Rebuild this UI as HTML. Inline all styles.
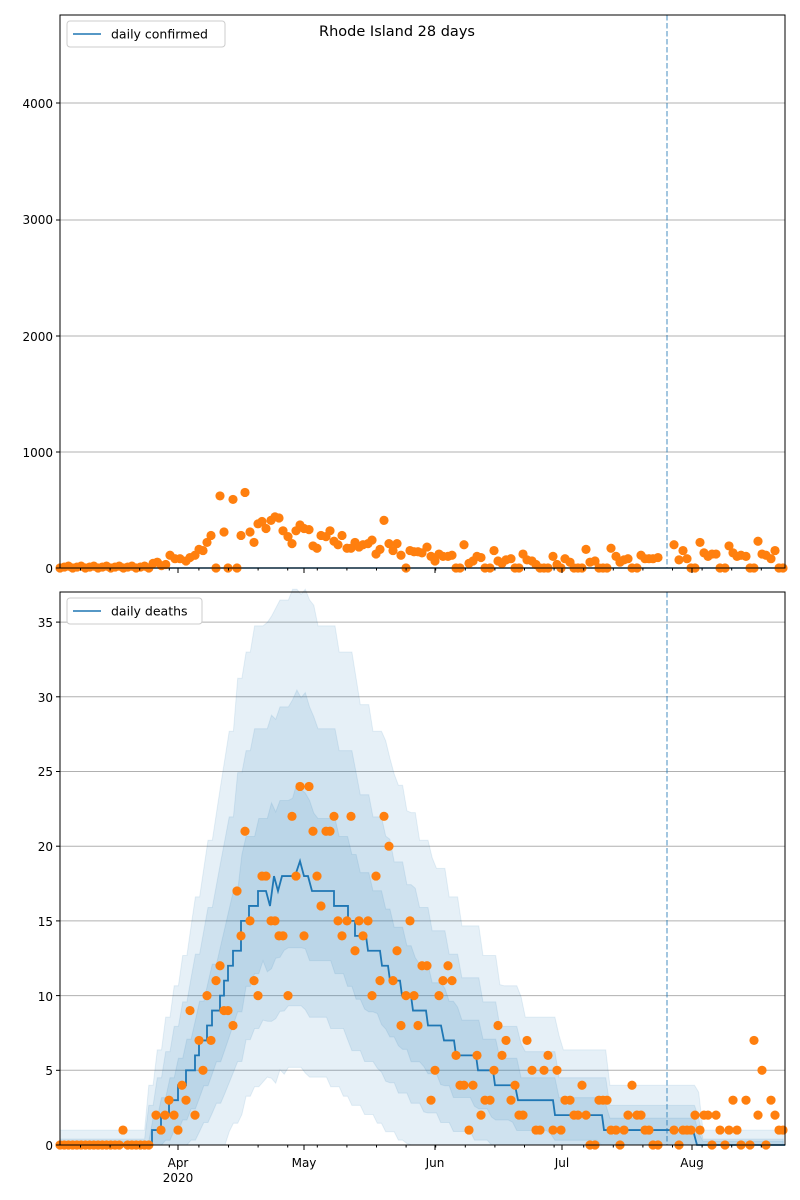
<!DOCTYPE html>
<html><head><meta charset="utf-8"><style>
body{margin:0;background:#fff}
svg{display:block;font-family:"DejaVu Sans","Liberation Sans",sans-serif}
</style></head><body>
<svg id="s" width="800" height="1200" xmlns="http://www.w3.org/2000/svg">
<rect width="800" height="1200" fill="#fff"/>
<g id="gtop"></g><g id="gbot"></g>
<g id="labels">
<text x="397" y="36" font-size="14.5" text-anchor="middle">Rhode Island 28 days</text>
<g font-size="12" text-anchor="end">
<text x="53" y="108">4000</text><text x="53" y="224">3000</text><text x="53" y="341">2000</text><text x="53" y="457">1000</text><text x="53" y="573">0</text>
<text x="53" y="627">35</text><text x="53" y="702">30</text><text x="53" y="776">25</text><text x="53" y="851">20</text><text x="53" y="926">15</text><text x="53" y="1001">10</text><text x="53" y="1075">5</text><text x="53" y="1150">0</text>
</g>
<g font-size="12" text-anchor="middle">
<text x="178" y="1167">Apr</text><text x="178" y="1182">2020</text>
<text x="304" y="1167">May</text><text x="435" y="1167">Jun</text><text x="562" y="1167">Jul</text><text x="692" y="1167">Aug</text>
</g>
<g font-size="12.5">
<rect x="67" y="21" width="158" height="26" rx="3" fill="#fff" stroke="#ccc"/>
<line x1="73" y1="34" x2="101" y2="34" stroke="#1f77b4" stroke-width="1.5"/>
<text x="111" y="38.5">daily confirmed</text>
<rect x="67" y="598" width="135" height="26" rx="3" fill="#fff" stroke="#ccc"/>
<line x1="73" y1="611" x2="101" y2="611" stroke="#1f77b4" stroke-width="1.5"/>
<text x="111" y="615.5">daily deaths</text>
</g>
</g>
</svg>
<script>
(function(){
var NS="http://www.w3.org/2000/svg";
function el(p,t,a){var e=document.createElementNS(NS,t);for(var k in a)e.setAttribute(k,a[k]);p.appendChild(e);return e;}
var S=document.getElementById('s');
var tp=document.getElementById('gtop'),bt=document.getElementById('gbot');
var L=60,R=785;
[103,220,336,452].forEach(function(y){el(tp,'line',{x1:L,x2:R,y1:y,y2:y,stroke:'#b0b0b0','stroke-width':1});});
function Y(v){return 1145-v*14.94;}
for(var v=5;v<=35;v+=5){var y=Y(v);el(bt,'line',{x1:L,x2:R,y1:y,y2:y,stroke:'#b0b0b0','stroke-width':1});}
var med=[[60,0],[152,0],[152,1],[161,1],[161,2],[169,2],[169,3],[178,3],[178,4],[186,4],[186,5],[195,5],[195,6],[199,6],[199,7],[207,7],[207,8],[212,8],[212,9],[220,9],[220,10],[224,10],[224,11],[228,11],[228,12],[233,12],[233,13],[241,13],[241,15],[249,15],[249,16],[258,16],[258,17],[266,17],[270,16],[274,18],[278,17],[282,18],[286,18],[291,18],[295,18],[300,19],[304,18],[308,18],[312,17],[322,17],[334,17],[334,16],[348,16],[348,15],[355,15],[355,14],[366,14],[368,13],[380,13],[382,12],[388,12],[390,11],[400,11],[402,10],[411,10],[413,9],[426,9],[428,8],[441,8],[444,7],[454,7],[456,6],[476,6],[478,5],[493,5],[495,4],[515,4],[518,3],[553,3],[555,2],[602,2],[604,1],[693,1],[697,0],[785,0]];
function interp(x){if(x<=med[0][0])return 0;for(var i=1;i<med.length;i++){if(x<=med[i][0]){var a=med[i-1],b=med[i];if(b[0]==a[0])return b[1];return a[1]+(b[1]-a[1])*(x-a[0])/(b[0]-a[0]);}}return 0;}
// [upper factor (m^0.75), lower factor (sqrt), const, smear]
var bands=[[2.0,2.9,1.0,5],[1.25,2.0,0.4,4],[0.55,1.1,0.25,3]];
bands.forEach(function(b){
 var up=[],dn=[];
 for(var x=L;x<=R+0.1;x+=4.23){var m=interp(x-b[3]),mu=interp(x+b[3]);var mx=Math.max(m,mu),mn=Math.min(m,mu);
  up.push([x,Math.min(mx+b[0]*Math.pow(mx,0.75)+b[2],37.2)]);dn.push([x,Math.max(mn-b[1]*Math.sqrt(mn)-b[2]*0.5,0)]);}
 var pts=up.map(function(p){return p[0].toFixed(1)+','+Y(p[1]).toFixed(1)}).concat(dn.reverse().map(function(p){return p[0].toFixed(1)+','+Y(p[1]).toFixed(1)}));
 el(bt,'polygon',{points:pts.join(' '),fill:'#1f77b4','fill-opacity':0.11,stroke:'#1f77b4','stroke-opacity':0.1});
});
el(bt,'polyline',{points:med.map(function(p){return p[0]+','+Y(p[1])}).join(' '),fill:'none',stroke:'#1f77b4','stroke-width':1.8});
var D=[[123,1],[156,2],[161,1],[165,2],[169,3],[174,2],[178,1],[182,4],[186,3],[190,9],[195,2],[199,7],[203,5],[207,10],[211,7],[216,11],[220,12],[224,9],[228,9],[233,8],[237,17],[241,14],[245,21],[250,15],[254,11],[258,10],[262,18],[266,18],[271,15],[275,15],[279,14],[283,14],[288,10],[292,22],[296,18],[300,24],[304,14],[309,24],[313,21],[317,18],[321,16],[326,21],[330,21],[334,22],[338,15],[342,14],[347,15],[351,22],[355,13],[359,15],[363,14],[368,15],[372,10],[376,18],[380,11],[384,22],[389,20],[393,11],[397,13],[401,8],[406,10],[410,15],[414,10],[418,8],[422,12],[427,12],[431,3],[435,5],[439,10],[443,11],[448,12],[452,11],[456,6],[460,4],[464,4],[469,1],[473,4],[477,6],[481,2],[485,3],[490,3],[494,5],[498,8],[502,6],[506,7],[511,3],[515,4],[519,2],[523,2],[527,7],[532,5],[536,1],[540,1],[544,5],[548,6],[553,1],[557,5],[561,1],[565,3],[570,3],[574,2],[578,2],[582,4],[586,2],[590,0],[595,0],[599,3],[603,3],[607,3],[611,1],[616,1],[620,0],[624,1],[628,2],[632,4],[637,2],[641,2],[645,1],[649,1],[653,0],[658,0],[674,1],[679,0],[683,1],[687,1],[691,1],[695,2],[700,1],[704,2],[708,2],[712,0],[716,2],[720,1],[725,0],[729,1],[733,3],[737,1],[741,0],[746,3],[750,0],[754,7],[758,2],[762,5],[766,0],[771,3],[775,2],[779,1],[783,1]];
for(var x=60;x<153;x+=4.23){if(Math.abs(x-123)>2)D.push([x,0]);}
D.forEach(function(p){el(bt,'circle',{cx:p[0],cy:Y(p[1]),r:4.6,fill:'#ff7f0e'});});
var C=[[170,110],[175,80],[180,80],[186,60],[190,90],[195,110],[199,160],[203,150],[207,220],[211,280],[216,0],[220,620],[224,310],[228,0],[233,590],[237,0],[241,280],[245,650],[250,310],[254,220],[258,380],[262,400],[266,340],[271,410],[275,440],[279,430],[283,320],[288,270],[292,210],[296,320],[300,370],[304,340],[309,330],[313,190],[317,170],[321,280],[326,270],[330,320],[334,230],[338,200],[342,280],[347,170],[351,170],[355,220],[359,180],[363,200],[368,210],[372,240],[376,120],[380,160],[384,410],[389,210],[393,150],[397,210],[401,110],[406,0],[410,150],[414,140],[418,140],[422,130],[427,180],[431,100],[435,60],[439,120],[443,100],[448,100],[452,110],[456,0],[460,0],[464,200],[469,40],[473,60],[477,100],[481,90],[485,0],[490,0],[494,150],[498,60],[502,40],[506,70],[511,80],[515,0],[519,0],[523,120],[527,70],[532,60],[536,30],[540,0],[544,0],[548,0],[553,100],[557,30],[561,0],[565,80],[570,50],[574,0],[578,0],[582,0],[586,160],[590,50],[595,60],[599,0],[603,0],[607,0],[611,170],[616,100],[620,50],[624,70],[628,80],[632,0],[637,0],[641,110],[645,80],[649,80],[653,80],[658,90],[674,200],[679,70],[683,150],[687,80],[691,0],[695,0],[700,220],[704,130],[708,100],[712,120],[716,120],[720,0],[725,0],[729,190],[733,130],[737,100],[741,110],[746,100],[750,0],[754,0],[758,230],[762,120],[766,110],[771,80],[775,150],[779,0],[783,0]];
var k=0;for(var x=60;x<168;x+=4.23){C.push([x,x<150?(k%3)*8:20+(k%4)*10]);k++;}
el(tp,'line',{x1:L,x2:R,y1:568,y2:568,stroke:'#1f77b4','stroke-width':1.5});
C.forEach(function(p){el(tp,'circle',{cx:p[0],cy:568-p[1]*0.11625,r:4.6,fill:'#ff7f0e'});});
var lab=document.getElementById('labels');
[[15,568],[592,1145]].forEach(function(r){
 el(S,'line',{x1:667,x2:667,y1:r[0],y2:r[1],stroke:'#1f77b4','stroke-opacity':0.55,'stroke-width':1.5,'stroke-dasharray':'5.5,2.5'});
 el(S,'rect',{x:L,y:r[0],width:R-L,height:r[1]-r[0],fill:'none',stroke:'#000','stroke-width':1});
 [178,304,435,562,692].forEach(function(x){el(S,'line',{x1:x,x2:x,y1:r[1],y2:r[1]+5,stroke:'#000'});});
 for(var x=80.5;x<R;x+=29.6){el(S,'line',{x1:x,x2:x,y1:r[1],y2:r[1]+2.5,stroke:'#000'});}
});
[103,220,336,452,568].forEach(function(y){el(S,'line',{x1:L-4,x2:L,y1:y,y2:y,stroke:'#000'});});
for(var v=0;v<=35;v+=5){var y=Y(v);el(S,'line',{x1:L-4,x2:L,y1:y,y2:y,stroke:'#000'});}
S.appendChild(lab);
})();
</script>
</body></html>
